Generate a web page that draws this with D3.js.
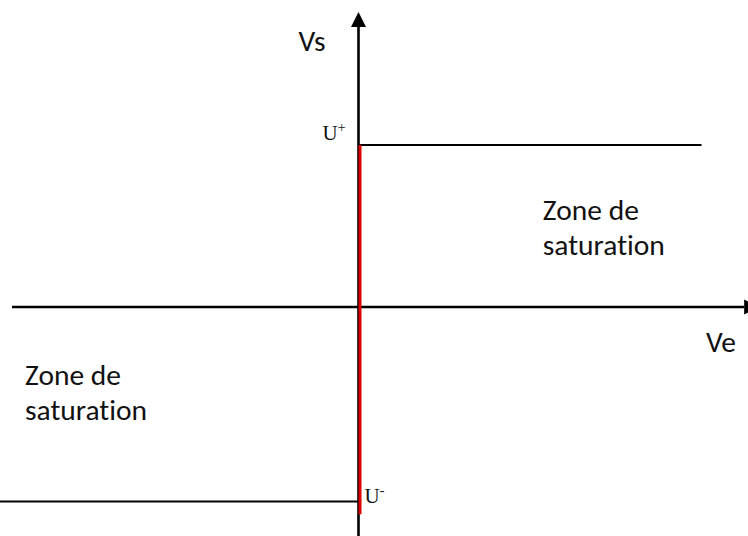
<!DOCTYPE html>
<html lang="fr">
<meta charset="utf-8">
<script src="https://d3js.org/d3.v7.min.js"></script>
<head>
    <style type="text/css">
        body { margin: 0; background: white; }
        .zone {
            font-family: Carlito, Calibri, Lato, sans-serif;
            font-size: 29.5px;
            font-variant-ligatures: none;
            fill: #111;
        }
        .level {
            font-family: "Liberation Serif", "Times New Roman", serif;
            font-size: 21px;
            fill: #111;
        }
    </style>
</head>
<body>
    <div id="my_dataviz"></div>
    <script>
        // saturation levels (Vs) and where each horizontal branch runs (Ve)
        const levelNames = ["U", "U"];
        const levelSigns = ["+", "-"];
        const satVs = [1, -1.2];
        const satVe = [[0, 0.99], [-1.035, 0]];

        // the red vertical transition at Ve = 0
        const linVe = [0, 0];
        const linVs = [1, -1.28];

        // axis extents
        const veAxis = [-1, 1.113];
        const vsAxis = [-1.42, 1.728];

        const width = 748, height = 536;

        const svg = d3.select("#my_dataviz")
            .append("svg")
            .attr("width", width)
            .attr("height", height);

        const x = d3.scaleLinear().domain([-1, 1]).range([12, 705]);
        const y = d3.scaleLinear().domain([0, 1]).range([307, 145]);

        const line = d3.line().x(d => x(d[0])).y(d => y(d[1]));

        // axes
        svg.append("path")
            .attr("d", line([[veAxis[0], 0], [veAxis[1], 0]]))
            .attr("stroke", "black")
            .attr("stroke-width", 2.6);
        svg.append("path")
            .attr("d", line([[0, vsAxis[0]], [0, vsAxis[1]]]))
            .attr("stroke", "black")
            .attr("stroke-width", 2.6);

        // arrow heads
        const xa = x(veAxis[1]), ya = y(vsAxis[1]);
        svg.append("path")
            .attr("d", `M${xa},${y(0) - 7.5}L${xa + 15},${y(0)}L${xa},${y(0) + 7.5}Z`)
            .attr("fill", "black");
        svg.append("path")
            .attr("d", `M${x(0) - 7.5},${ya}L${x(0)},${ya - 15}L${x(0) + 7.5},${ya}Z`)
            .attr("fill", "black");

        // saturation branches
        satVs.forEach((v, i) => {
            svg.append("path")
                .attr("d", line([[satVe[i][0], v], [satVe[i][1], v]]))
                .attr("stroke", "black")
                .attr("stroke-width", 2);
        });

        // linear region (red)
        svg.append("path")
            .attr("d", line(linVe.map((d, i) => [d, linVs[i]])))
            .attr("transform", "translate(1.5,0)")
            .attr("stroke", "#e00000")
            .attr("stroke-width", 3);

        // U+ / U- labels
        const lp = svg.append("text").attr("class", "level")
            .attr("x", x(0) - 36).attr("y", y(satVs[0]) - 5);
        lp.append("tspan").text(levelNames[0]);
        lp.append("tspan").attr("font-size", 14).attr("dy", -8).text(levelSigns[0]);

        const lm = svg.append("text").attr("class", "level")
            .attr("x", x(0) + 6).attr("y", y(satVs[1]) + 2);
        lm.append("tspan").text(levelNames[1]);
        lm.append("tspan").attr("font-size", 14).attr("dy", -8).text(levelSigns[1]);

        // axis names
        svg.append("text").attr("class", "zone")
            .attr("x", x(0) - 60).attr("y", y(vsAxis[1]) + 24)
            .text("Vs");
        svg.append("text").attr("class", "zone")
            .attr("x", x(1.003)).attr("y", y(0) + 45)
            .text("Ve");

        // zone labels
        const zones = [[0.532, 0.54], [-0.9625, -0.48]];
        zones.forEach(z => {
            const t = svg.append("text").attr("class", "zone")
                .attr("x", x(z[0])).attr("y", y(z[1]));
            t.append("tspan").attr("x", x(z[0])).text("Zone de");
            t.append("tspan").attr("x", x(z[0])).attr("dy", 35).text("saturation");
        });
    </script>
</body>
</html>
